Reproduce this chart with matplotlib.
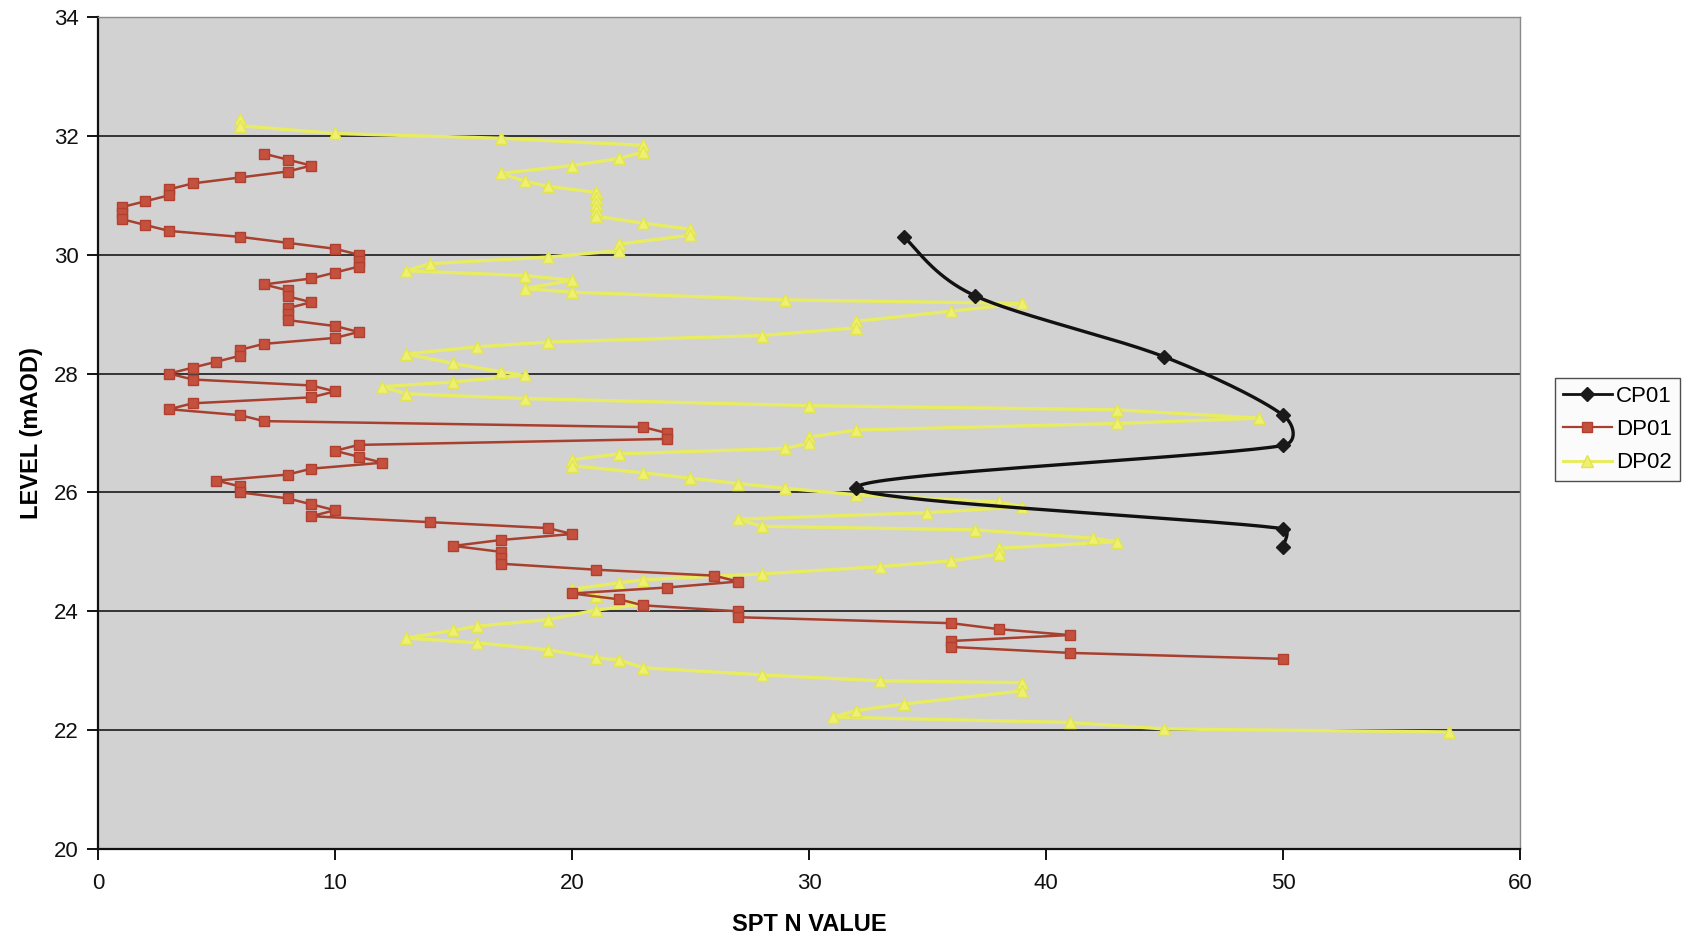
import matplotlib
matplotlib.use("Agg")
import matplotlib.pyplot as plt
from matplotlib.lines import Line2D
import numpy as np

plt.rcParams['font.family'] = ['Liberation Sans', 'DejaVu Sans']

# CP01 - cone penetration, SPT N vs level (mAOD)
cp01_n = [34, 37, 45, 50, 50, 32, 50, 50]
cp01_lvl = [30.30, 29.31, 28.28, 27.30, 26.79, 26.08, 25.39, 25.08]

# DP01 - dynamic probe
dp01_lvl = [31.7, 31.6, 31.5, 31.4, 31.3, 31.2, 31.1, 31.0, 30.9, 30.8,
            30.7, 30.6, 30.5, 30.4, 30.3, 30.2, 30.1, 30.0, 29.9, 29.8,
            29.7, 29.6, 29.5, 29.4, 29.3, 29.2, 29.1, 29.0, 28.9, 28.8,
            28.7, 28.6, 28.5, 28.4, 28.3, 28.2, 28.1, 28.0, 27.9, 27.8,
            27.7, 27.6, 27.5, 27.4, 27.3, 27.2, 27.1, 27.0, 26.9, 26.8,
            26.7, 26.6, 26.5, 26.4, 26.3, 26.2, 26.1, 26.0, 25.9, 25.8,
            25.7, 25.6, 25.5, 25.4, 25.3, 25.2, 25.1, 25.0, 24.9, 24.8,
            24.7, 24.6, 24.5, 24.4, 24.3, 24.2, 24.1, 24.0, 23.9, 23.8,
            23.7, 23.6, 23.5, 23.4, 23.3, 23.2]
dp01_n = [7, 8, 9, 8, 6, 4, 3, 3, 2, 1,
          1, 1, 2, 3, 6, 8, 10, 11, 11, 11,
          10, 9, 7, 8, 8, 9, 8, 8, 8, 10,
          11, 10, 7, 6, 6, 5, 4, 3, 4, 9,
          10, 9, 4, 3, 6, 7, 23, 24, 24, 11,
          10, 11, 12, 9, 8, 5, 6, 6, 8, 9,
          10, 9, 14, 19, 20, 17, 15, 17, 17, 17,
          21, 26, 27, 24, 20, 22, 23, 27, 27, 36,
          38, 41, 36, 36, 41, 50]

# DP02 - dynamic probe
dp02_lvl = [32.28, 32.17, 32.04, 31.96, 31.84, 31.73, 31.62, 31.50, 31.37, 31.24,
            31.15, 31.05, 30.95, 30.85, 30.75, 30.65, 30.53, 30.43, 30.33, 30.18,
            30.07, 29.96, 29.85, 29.73, 29.65, 29.57, 29.43, 29.37, 29.24, 29.18,
            29.05, 28.88, 28.77, 28.64, 28.53, 28.45, 28.33, 28.17, 28.03, 27.97,
            27.86, 27.78, 27.66, 27.58, 27.46, 27.39, 27.25, 27.16, 27.05, 26.93,
            26.83, 26.74, 26.65, 26.55, 26.45, 26.33, 26.24, 26.15, 26.07, 25.96,
            25.84, 25.76, 25.66, 25.55, 25.43, 25.37, 25.23, 25.17, 25.06, 24.96,
            24.85, 24.75, 24.63, 24.53, 24.48, 24.37, 24.26, 24.12, 24.02, 23.86,
            23.75, 23.68, 23.55, 23.47, 23.35, 23.22, 23.18, 23.05, 22.93, 22.83,
            22.80, 22.66, 22.44, 22.33, 22.22, 22.13, 22.02, 21.97]
dp02_n = [6, 6, 10, 17, 23, 23, 22, 20, 17, 18,
          19, 21, 21, 21, 21, 21, 23, 25, 25, 22,
          22, 19, 14, 13, 18, 20, 18, 20, 29, 39,
          36, 32, 32, 28, 19, 16, 13, 15, 17, 18,
          15, 12, 13, 18, 30, 43, 49, 43, 32, 30,
          30, 29, 22, 20, 20, 23, 25, 27, 29, 32,
          38, 39, 35, 27, 28, 37, 42, 43, 38, 38,
          36, 33, 28, 23, 22, 20, 21, 23, 21, 19,
          16, 15, 13, 16, 19, 21, 22, 23, 28, 33,
          39, 39, 34, 32, 31, 41, 45, 57]

x_ticks = [0, 10, 20, 30, 40, 50, 60]
y_ticks = [20, 22, 24, 26, 28, 30, 32, 34]


def smooth_curve(xs, ys, sx, sy, steps=40, cap=0.5):
    """Excel-like smoothed line (Catmull-Rom bezier) in screen proportions"""
    p = np.column_stack([np.array(xs) * sx, np.array(ys) * sy])
    n = len(p)
    out = []
    for i in range(n - 1):
        p0 = p[max(i - 1, 0)]
        p1 = p[i]
        p2 = p[i + 1]
        p3 = p[min(i + 2, n - 1)]
        seg = np.hypot(*(p2 - p1))
        d1 = (p2 - p0) / 6.0
        d2 = (p3 - p1) / 6.0
        for d in (d1, d2):
            ln = np.hypot(*d)
            if ln > cap * seg:
                d *= cap * seg / ln
        c1 = p1 + d1
        c2 = p2 - d2
        t = np.linspace(0, 1, steps)[:, None]
        b = ((1 - t) ** 3) * p1 + 3 * ((1 - t) ** 2) * t * c1 + 3 * (1 - t) * t ** 2 * c2 + t ** 3 * p2
        out.append(b)
    pts = np.vstack(out)
    return pts[:, 0] / sx, pts[:, 1] / sy


fig = plt.figure(figsize=(16.9, 9.41), dpi=100)
fig.patch.set_facecolor('white')
ax = fig.add_axes([98 / 1690, 1 - 849 / 941, 1422 / 1690, 832 / 941])
ax.set_facecolor('#d2d2d2')

ax.set_xlim(0, 60)
ax.set_ylim(20, 34)
ax.set_xticks(x_ticks)
ax.set_yticks(y_ticks)
ax.yaxis.grid(True, color='#1a1a1a', linewidth=1.2)
ax.xaxis.grid(False)
ax.set_axisbelow(True)

red_line = '#a8402f'
red_face = '#c4503e'
yel = '#e8ec62'

ax.plot(dp02_n, dp02_lvl, color=yel, linewidth=2.4, marker='^', markersize=9,
        markerfacecolor='#eef070', markeredgecolor='#e2e450', zorder=3)
ax.plot(dp01_n, dp01_lvl, color=red_line, linewidth=1.8, marker='s', markersize=7.5,
        markerfacecolor=red_face, markeredgecolor='#b0402f', zorder=4)

# screen scale: pixels per unit for smoothing
sx = 1422 / 60
sy = 832 / 14
cx, cy = smooth_curve(cp01_n, cp01_lvl, sx, sy)
ax.plot(cx, cy, color='#111111', linewidth=2.4, zorder=5)
ax.plot(cp01_n, cp01_lvl, linestyle='none', marker='D', markersize=7.5,
        markerfacecolor='#1a1a1a', markeredgecolor='#1a1a1a', zorder=6)

for s in ['left', 'bottom']:
    ax.spines[s].set_color('#111111')
    ax.spines[s].set_linewidth(1.6)
for s in ['top', 'right']:
    ax.spines[s].set_color('#8a8a8a')
    ax.spines[s].set_linewidth(1.0)

ax.tick_params(axis='both', direction='out', length=8, width=1.4, colors='#111111',
               labelsize=16)
ax.tick_params(axis='x', pad=9)
ax.tick_params(axis='y', pad=6)

ax.set_xlabel('SPT N VALUE', fontsize=17, fontweight='bold', labelpad=14)
ax.set_ylabel('LEVEL (mAOD)', fontsize=17, fontweight='bold', labelpad=8)

handles = [
    Line2D([], [], color='#111111', linewidth=2, marker='D', markersize=7,
           markerfacecolor='#1a1a1a', markeredgecolor='#1a1a1a'),
    Line2D([], [], color=red_line, linewidth=1.6, marker='s', markersize=7,
           markerfacecolor=red_face, markeredgecolor='#b0402f'),
    Line2D([], [], color=yel, linewidth=2.2, marker='^', markersize=8,
           markerfacecolor='#eef070', markeredgecolor='#e2e450'),
]
leg = fig.legend(handles, ['CP01', 'DP01', 'DP02'], loc='upper left',
                 bbox_to_anchor=(1555 / 1690, 1 - 378 / 941), bbox_transform=fig.transFigure,
                 fontsize=16, frameon=True, fancybox=False, handlelength=2.2,
                 borderpad=0.36, labelspacing=0.55, handletextpad=0.2, borderaxespad=0)
leg.get_frame().set_edgecolor('#222222')
leg.get_frame().set_linewidth(1.0)
leg.get_frame().set_facecolor('#fafafa')

fig.savefig('out.png', dpi=100)
